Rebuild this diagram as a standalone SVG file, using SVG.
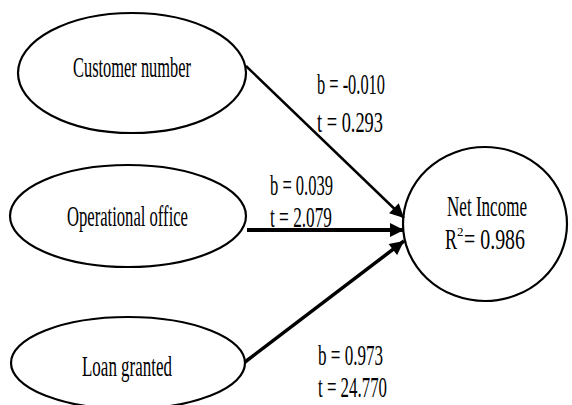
<svg xmlns="http://www.w3.org/2000/svg" width="572" height="405" viewBox="0 0 572 405">
<style>
.node ellipse{fill:#fff;stroke:#000;stroke-width:2.2}
text{font-family:"Liberation Serif","Times New Roman",serif;font-size:29px;fill:#000}
.conn line{stroke:#000}
</style>
<defs>
<marker id="ah" viewBox="0 0 10 10" refX="10" refY="5" markerUnits="userSpaceOnUse" markerWidth="16" markerHeight="14" orient="auto">
<path d="M0,0 L10,5 L0,10 z" fill="#000"/>
</marker>
</defs>
<rect width="572" height="405" fill="#fff"/>
<g id="n-customer" class="node">
<ellipse cx="132" cy="73" rx="114" ry="60"/>
<text x="73" y="77" textLength="118" lengthAdjust="spacingAndGlyphs">Customer number</text>
</g>
<g id="n-office" class="node">
<ellipse cx="128" cy="216" rx="118" ry="51"/>
<text x="67" y="226" textLength="121" lengthAdjust="spacingAndGlyphs">Operational office</text>
</g>
<g id="n-loan" class="node">
<ellipse cx="128" cy="363" rx="117" ry="46"/>
<text x="82" y="376" textLength="90" lengthAdjust="spacingAndGlyphs">Loan granted</text>
</g>
<g id="n-income" class="node">
<ellipse cx="485" cy="224" rx="82" ry="77"/>
<text x="447" y="216" textLength="80" lengthAdjust="spacingAndGlyphs">Net Income</text>
<text y="249"><tspan x="445" textLength="12" lengthAdjust="spacingAndGlyphs">R</tspan><tspan dy="-13" style="font-size:13px">2</tspan><tspan x="464" dy="13" textLength="61" lengthAdjust="spacingAndGlyphs">= 0.986</tspan></text>
</g>
<g id="connectors" class="conn">
<line x1="246" y1="66" x2="404" y2="218" stroke-width="2.5" marker-end="url(#ah)"/>
<line x1="247" y1="230" x2="404" y2="230" stroke-width="4" marker-end="url(#ah)"/>
<line x1="245" y1="362" x2="404" y2="241" stroke-width="3.5" marker-end="url(#ah)"/>
</g>
<g id="labels">
<text x="317" y="94" textLength="68" lengthAdjust="spacingAndGlyphs">b = -0.010</text>
<text x="317" y="132" textLength="66" lengthAdjust="spacingAndGlyphs">t = 0.293</text>
<text x="270" y="195" textLength="63" lengthAdjust="spacingAndGlyphs">b = 0.039</text>
<text x="270" y="227" textLength="62" lengthAdjust="spacingAndGlyphs">t = 2.079</text>
<text x="318" y="365" textLength="65" lengthAdjust="spacingAndGlyphs">b = 0.973</text>
<text x="318" y="397" textLength="69" lengthAdjust="spacingAndGlyphs">t = 24.770</text>
</g>
</svg>
